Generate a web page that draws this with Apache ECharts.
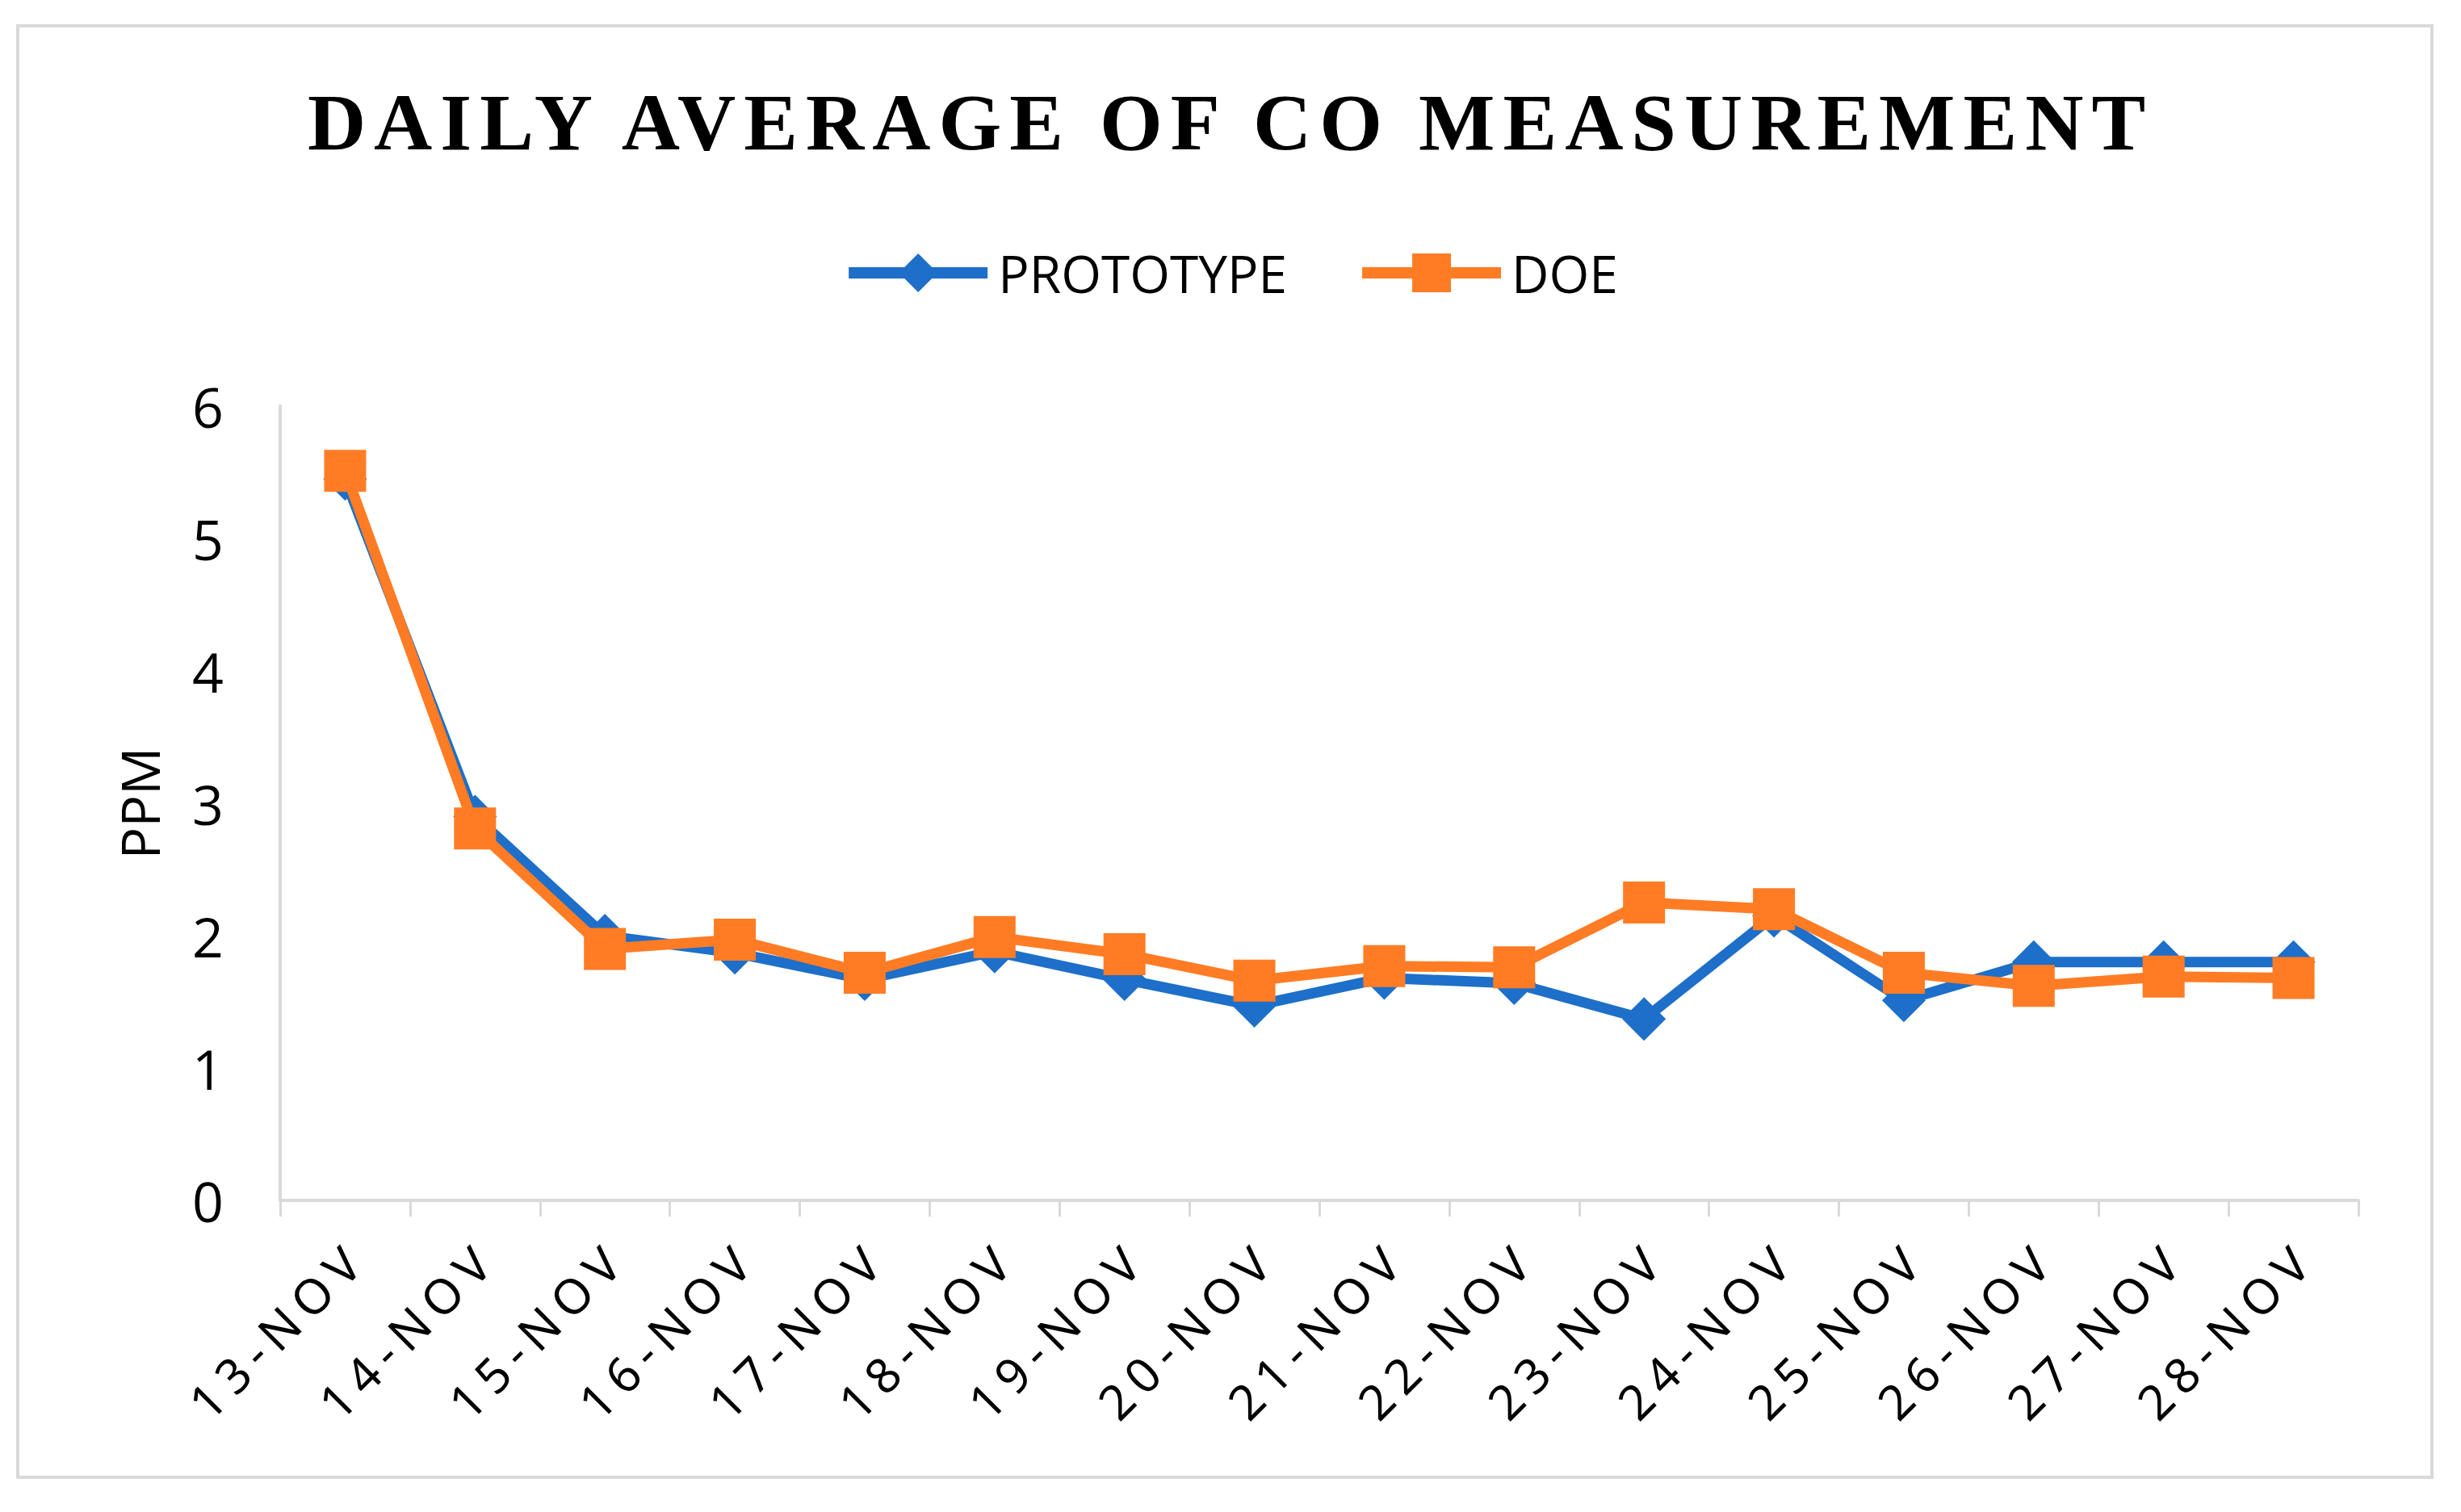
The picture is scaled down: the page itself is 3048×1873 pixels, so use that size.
<!DOCTYPE html>
<html>
<head>
<meta charset="utf-8">
<script src="https://cdn.jsdelivr.net/npm/echarts@6/dist/echarts.min.js"></script>
<style>
  html, body { margin: 0; padding: 0; background: #fff; }
  #chart { width: 3048px; height: 1873px; }
  /* letter-spaced title and category labels, as in the reference */
  #chart svg text[style*="Liberation Serif"] { letter-spacing: 10px; }
  #chart svg text[style*="Noto Sans"] { letter-spacing: 11px; }
</style>
</head>
<body>
<div id="chart"></div>
<script>
const categories = ['13-NOV','14-NOV','15-NOV','16-NOV','17-NOV','18-NOV','19-NOV','20-NOV',
                    '21-NOV','22-NOV','23-NOV','24-NOV','25-NOV','26-NOV','27-NOV','28-NOV'];
const prototypeValues = [5.45, 2.90, 2.00, 1.87, 1.67, 1.88, 1.67, 1.47, 1.68, 1.64, 1.37, 2.15, 1.51, 1.80, 1.80, 1.80];
const doeValues       = [5.51, 2.81, 1.90, 1.97, 1.72, 1.99, 1.86, 1.66, 1.77, 1.76, 2.25, 2.20, 1.72, 1.62, 1.69, 1.68];
const yTicks = { min: 0, max: 6, interval: 1 };

const BLUE = '#1D6FC9';
const ORANGE = '#FF7C24';
const GRAY = '#D9D9D9';

const chart = echarts.init(document.getElementById('chart'), null, { renderer: 'svg' });
chart.setOption({
  animation: false,
  backgroundColor: '#ffffff',
  title: {
    text: 'DAILY AVERAGE OF CO MEASUREMENT',
    left: 'center',
    top: 96,
    textStyle: { fontFamily: 'Liberation Serif', fontWeight: 'bold', fontSize: 100, color: '#000' }
  },
  legend: {
    top: 301,
    left: 'center',
    itemWidth: 172,
    itemHeight: 60,
    itemGap: 86,
    lineStyle: { width: 14 },
    textStyle: { fontFamily: 'Open Sans', fontSize: 64, color: '#000', padding: [0, 0, 0, 8] },
    data: ['PROTOTYPE', 'DOE']
  },
  graphic: [{
    type: 'rect',
    shape: { x: 22, y: 32, width: 2990, height: 1798 },
    style: { fill: 'none', stroke: GRAY, lineWidth: 4 },
    silent: true,
    z: -1
  }],
  grid: { left: 347, right: 127, top: 503, bottom: 386, containLabel: false },
  xAxis: {
    type: 'category',
    data: categories,
    boundaryGap: true,
    axisLine: { show: true, lineStyle: { color: GRAY, width: 4 } },
    axisTick: { show: true, length: 20, lineStyle: { color: GRAY, width: 3 } },
    axisLabel: {
      interval: 0,
      rotate: 45,
      margin: 76,
      padding: [0, -22, 0, 0],
      fontFamily: 'Noto Sans',
      fontSize: 60,
      color: '#000'
    },
    splitLine: { show: false }
  },
  yAxis: {
    type: 'value',
    min: yTicks.min,
    max: yTicks.max,
    interval: yTicks.interval,
    name: 'PPM',
    nameLocation: 'middle',
    nameGap: 142,
    nameTextStyle: { fontFamily: 'Open Sans', fontSize: 66, color: '#000' },
    axisLine: { show: true, lineStyle: { color: GRAY, width: 4 } },
    axisTick: { show: false },
    axisLabel: { margin: 70, fontFamily: 'Open Sans', fontSize: 68, color: '#000' },
    splitLine: { show: false }
  },
  series: [
    {
      name: 'PROTOTYPE',
      type: 'line',
      data: prototypeValues,
      symbol: 'diamond',
      symbolSize: 54,
      lineStyle: { color: BLUE, width: 13 },
      itemStyle: { color: BLUE },
      z: 2
    },
    {
      name: 'DOE',
      type: 'line',
      data: doeValues,
      symbol: 'rect',
      symbolSize: 52,
      lineStyle: { color: ORANGE, width: 13 },
      itemStyle: { color: ORANGE },
      z: 3
    }
  ]
});
</script>
</body>
</html>
